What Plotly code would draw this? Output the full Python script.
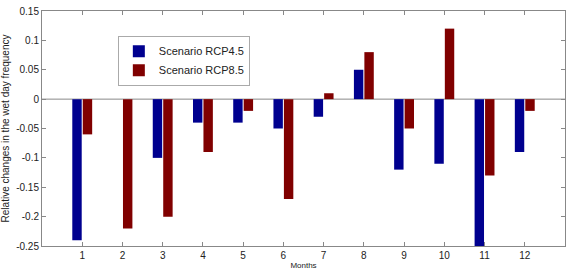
import plotly.graph_objects as go

months = list(range(1, 13))
rcp45 = [-0.24, 0.0, -0.10, -0.04, -0.04, -0.05, -0.03, 0.05, -0.12, -0.11, -0.26, -0.09]
rcp85 = [-0.06, -0.22, -0.20, -0.09, -0.02, -0.17, 0.01, 0.08, -0.05, 0.12, -0.13, -0.02]
yticks = [-0.25, -0.2, -0.15, -0.1, -0.05, 0, 0.05, 0.1, 0.15]
yticklabels = ["-0.25", "-0.2", "-0.15", "-0.1", "-0.05", "0", "0.05", "0.1", "0.15"]

fig = go.Figure()
fig.add_bar(x=months, y=rcp45, name="Scenario RCP4.5",
            marker=dict(color="#00008F", line=dict(width=0)))
fig.add_bar(x=months, y=rcp85, name="Scenario RCP8.5",
            marker=dict(color="#800000", line=dict(width=0)))

axis_common = dict(showline=True, linecolor="#888888", linewidth=1, mirror="ticks",
                   ticks="inside", ticklen=4, tickcolor="#888888", showgrid=False,
                   zeroline=False, tickfont=dict(family="Liberation Sans, Arial", size=10, color="#222"))

fig.update_layout(
    width=571, height=274,
    margin=dict(l=40, r=5, t=7, b=25),
    paper_bgcolor="white", plot_bgcolor="white",
    barmode="group", bargap=0.48, bargroupgap=0.1,
    font=dict(family="Liberation Sans, Arial", size=10, color="#222"),
    xaxis=dict(range=[0, 13], tickvals=months, ticktext=[str(m) for m in months],
               title=dict(text="Months", font=dict(size=8), standoff=2), **axis_common),
    yaxis=dict(range=[-0.25, 0.15], tickvals=yticks, ticktext=yticklabels,
               title=dict(text="Relative changes in the wet day frequency", font=dict(size=10), standoff=4),
               **axis_common),
    legend=dict(x=0.145, y=0.895, xanchor="left", yanchor="top", bgcolor="white",
                bordercolor="#aaaaaa", borderwidth=1, font=dict(size=11), itemwidth=30,
                tracegroupgap=0),
    showlegend=True,
)
fig.add_shape(type="line", xref="paper", yref="y", x0=0, x1=1, y0=0, y1=0,
              line=dict(color="#888888", width=1), layer="below")

fig.write_html("out.html")
